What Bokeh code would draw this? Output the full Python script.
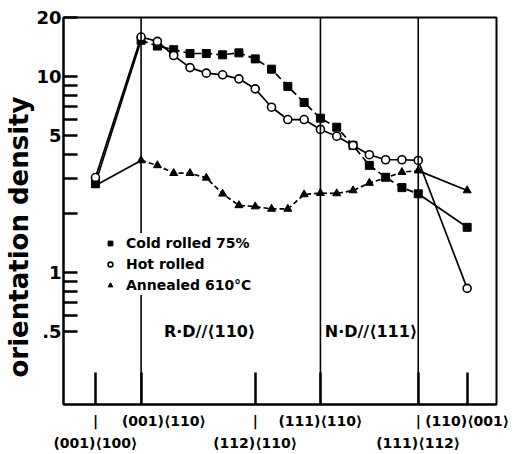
from bokeh.plotting import figure
from bokeh.models import (Range1d, FixedTicker, LinearAxis, Span, Label, Legend, LegendItem,
                          Title)
from bokeh.embed import file_html
from bokeh.resources import INLINE

# ---- data (orientation path position in degrees, orientation density) ----
angle = [-14, 0, 5, 10, 15, 20, 25, 30, 35, 40, 45, 50, 55, 60, 65, 70, 75, 80, 85, 100]
cold_rolled = [2.85, 15.3, 14.3, 13.7, 13.1, 13.1, 12.9, 13.2, 12.3, 10.9, 8.9, 7.37, 6.13,
               5.51, 4.45, 3.52, 3.06, 2.71, 2.52, 1.70]
hot_rolled = [3.05, 15.9, 15.1, 12.8, 11.1, 10.4, 10.2, 9.73, 8.65, 6.97, 6.03, 6.03, 5.37,
              4.96, 4.45, 3.99, 3.76, 3.76, 3.73, 0.83]
annealed = [2.78, 3.73, 3.52, 3.21, 3.21, 3.04, 2.52, 2.20, 2.17, 2.11, 2.11, 2.50, 2.54,
            2.53, 2.62, 2.86, 3.04, 3.25, 3.31, 2.62]

series_names = ["Cold rolled 75%", "Hot rolled", "Annealed 610°C"]

tick_pos = [-14, 0, 35, 55, 85, 100]
row1_pos = [-14, 7, 35, 55, 85, 100]
row1_lab = ["|", "(001)⟨110⟩", "|", "(111)⟨110⟩", "|", "(110)⟨001⟩"]
row2_pos = [-14, 35, 85]
row2_lab = ["(001)⟨100⟩", "(112)⟨110⟩", "(111)⟨112⟩"]
fibre_bounds = [0, 55, 85]
fibre_names = ["R·D//⟨110⟩", "N·D//⟨111⟩"]
fibre_label_x = [21, 70.5]
fibre_label_y = [0.5, 0.5]

y_ticks = [0.5, 0.6, 0.7, 0.8, 0.9, 1, 2, 3, 4, 5, 6, 7, 8, 9, 10, 20]
y_tick_labels = {0.5: ".5", 1: "1", 5: "5", 10: "10", 20: "20"}
y_title = "orientation density"

FONT = "DejaVu Sans"

p = figure(width=515, height=454, x_range=Range1d(-23.8, 109), y_range=Range1d(0.212, 20),
           y_axis_type="log", output_backend="svg", toolbar_location=None,
           min_border_left=63, min_border_right=19, min_border_top=17, min_border_bottom=50)
p.grid.visible = False
p.outline_line_color = "black"
p.outline_line_width = 2
p.background_fill_color = "white"
p.border_fill_color = "white"

# y axis
ya = p.yaxis[0]
ya.ticker = FixedTicker(ticks=y_ticks, minor_ticks=[])
ya.major_label_overrides = {t: y_tick_labels.get(t, "") for t in y_ticks}
ya.major_tick_in = 14
ya.major_tick_out = 0
ya.major_tick_line_width = 2.5
ya.minor_tick_line_color = None
ya.axis_line_width = 2
ya.major_label_standoff = 2
ya.major_label_text_font = FONT
ya.major_label_text_font_style = "bold"
ya.major_label_text_font_size = "18px"
ya.major_label_text_color = "black"

# y title, anchored near the bottom like the reference
p.add_layout(Title(text=y_title, align="left", offset=27, standoff=0,
                   text_font=FONT, text_font_style="bold", text_font_size="26px",
                   text_color="black"), "left")

# main x axis (line + inside ticks)
xa = p.xaxis[0]
xa.ticker = FixedTicker(ticks=tick_pos, minor_ticks=[])
xa.major_label_overrides = {t: "" for t in tick_pos}
xa.major_label_text_font_size = "1px"
xa.major_label_standoff = 0
xa.major_tick_in = 32
xa.major_tick_out = 0
xa.major_tick_line_width = 2.5
xa.minor_tick_line_color = None
xa.axis_line_width = 2


def label_axis(pos, labels, standoff):
    ax = LinearAxis(ticker=FixedTicker(ticks=pos, minor_ticks=[]),
                    major_label_overrides=dict(zip(pos, labels)))
    ax.axis_line_color = None
    ax.major_tick_line_color = None
    ax.minor_tick_line_color = None
    ax.major_tick_in = 0
    ax.major_tick_out = 0
    ax.major_label_standoff = standoff
    ax.major_label_text_font = FONT
    ax.major_label_text_font_style = "bold"
    ax.major_label_text_font_size = "14px"
    ax.major_label_text_color = "black"
    return ax


p.add_layout(label_axis(row1_pos, row1_lab, 8), "below")
p.add_layout(label_axis(row2_pos, row2_lab, 3), "below")

# fibre boundary lines
for loc in fibre_bounds:
    p.add_layout(Span(location=loc, dimension="height", line_color="black", line_width=1.6))

# curves
LW = 1.7
styles = [
    (cold_rolled, "7 4"),
    (hot_rolled, "solid"),
    (annealed, "5 3"),
]
for vals, dash in styles:
    p.line(angle[0:2], vals[0:2], line_color="black", line_width=LW)
    p.line(angle[1:19], vals[1:19], line_color="black", line_width=LW, line_dash=dash)
    p.line(angle[18:20], vals[18:20], line_color="black", line_width=LW)

r_cold = p.scatter(angle, cold_rolled, marker="square", size=8, fill_color="black",
                   line_color="black")
r_hot = p.scatter(angle, hot_rolled, marker="circle", size=8, fill_color="white",
                  line_color="black", line_width=1.6)
r_ann = p.scatter(angle, annealed, marker="triangle", size=8, fill_color="black",
                  line_color="black")

legend = Legend(items=[LegendItem(label=series_names[0], renderers=[r_cold]),
                       LegendItem(label=series_names[1], renderers=[r_hot]),
                       LegendItem(label=series_names[2], renderers=[r_ann])],
                location=(41, 109), padding=0, margin=0, spacing=1,
                glyph_width=12, glyph_height=20, label_height=20, label_standoff=10,
                border_line_color=None, background_fill_color="white",
                background_fill_alpha=1.0,
                label_text_font=FONT, label_text_font_style="bold",
                label_text_font_size="14px", label_text_color="black")
p.add_layout(legend, "center")

for name, lx, ly in zip(fibre_names, fibre_label_x, fibre_label_y):
    p.add_layout(Label(x=lx, y=ly, text=name, text_align="center", text_baseline="middle",
                       text_font=FONT, text_font_style="bold", text_font_size="16px",
                       text_color="black"))

open("out.html", "w").write(file_html(p, INLINE))
